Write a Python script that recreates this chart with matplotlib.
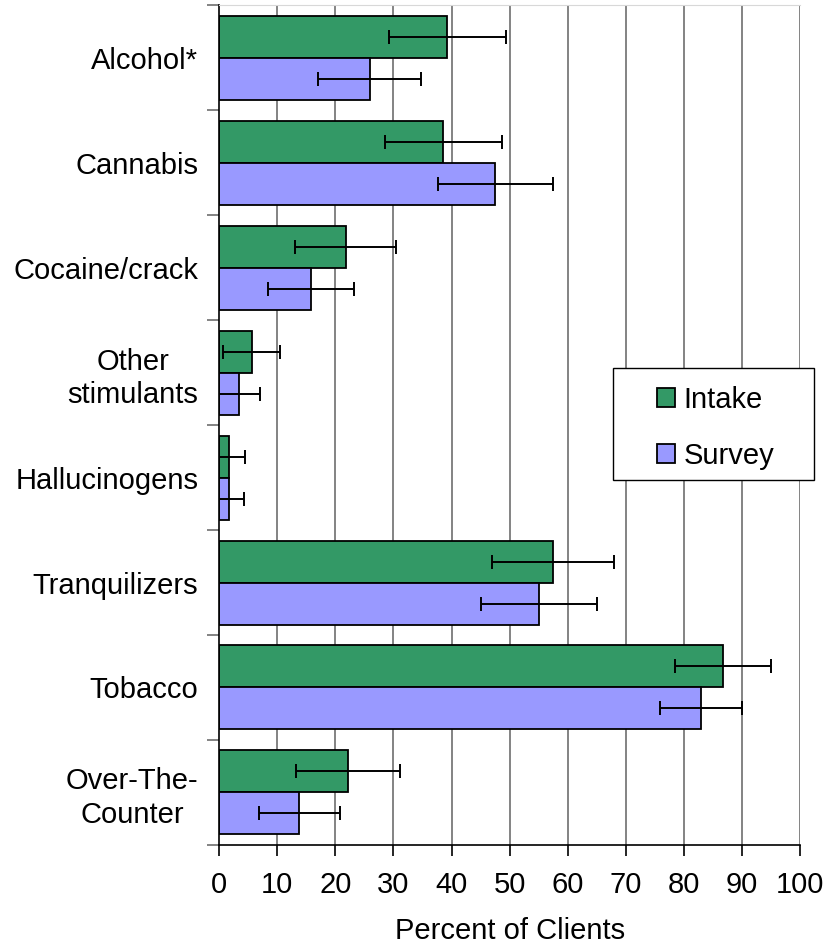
import matplotlib
matplotlib.use('Agg')
import matplotlib.pyplot as plt
from matplotlib.patches import Rectangle
import numpy as np

plt.rcParams['font.family'] = ['Liberation Sans', 'DejaVu Sans']

categories = ['Alcohol*', 'Cannabis', 'Cocaine/crack', 'Other\nstimulants',
              'Hallucinogens', 'Tranquilizers', 'Tobacco', 'Over-The-\nCounter']
intake = [39.3, 38.6, 21.8, 5.6, 1.7, 57.4, 86.7, 22.2]
intake_err = [10.1, 10.0, 8.7, 4.9, 2.8, 10.5, 8.3, 8.9]
survey = [25.9, 47.5, 15.8, 3.4, 1.7, 55.1, 82.9, 13.8]
survey_err = [8.8, 9.9, 7.4, 3.7, 2.6, 10.0, 7.0, 7.0]

fs = 21

fig = plt.figure(figsize=(8.27, 9.49), dpi=100)
ax = fig.add_axes([0.2648, 0.1096, 0.9677 - 0.2648, 0.9947 - 0.1096])

y = np.arange(len(categories))
h = 0.4

# vertical gridlines every 10
for v in range(10, 101, 10):
    ax.axvline(v, color='#6e6e6e', lw=1.2, zorder=0)

ax.barh(y - h / 2, intake, height=h, color='#339966', edgecolor='black',
        lw=1.3, label='Intake', zorder=2)
ax.barh(y + h / 2, survey, height=h, color='#9999ff', edgecolor='black',
        lw=1.3, label='Survey', zorder=2)
ax.errorbar(intake, y - h / 2, xerr=intake_err, fmt='none', ecolor='black',
            elinewidth=1.4, capsize=5, capthick=1.4, zorder=3)
ax.errorbar(survey, y + h / 2, xerr=survey_err, fmt='none', ecolor='black',
            elinewidth=1.4, capsize=5, capthick=1.4, zorder=3)

ax.set_xlim(0, 100)
ax.set_ylim(len(categories) - 0.5, -0.5)
ax.set_xticks(range(0, 101, 10))
ax.set_yticks(y)
ax.set_yticklabels(categories, multialignment='center', linespacing=1.25)
ax.set_yticks(np.arange(-0.5, len(categories)), minor=True)
ax.tick_params(axis='y', which='major', length=0, pad=15, labelsize=fs)
ax.tick_params(axis='y', which='minor', length=9, width=1.2, color='#6e6e6e')
ax.tick_params(axis='x', length=8, width=1.2, labelsize=fs, pad=11)
ax.set_xlabel('Percent of Clients', fontsize=fs, labelpad=13)

ax.spines['right'].set_visible(False)
ax.spines['top'].set_color('#d8d8d8')
ax.spines['left'].set_linewidth(1.2)
ax.spines['bottom'].set_linewidth(1.2)

# legend box drawn separately so it can sit over the right edge
fig.patches.append(Rectangle((613 / 827, 1 - 480 / 949), 201 / 827, 112 / 949,
                             transform=fig.transFigure, facecolor='white',
                             edgecolor='black', lw=1.0, zorder=5))
leg = fig.legend(loc='center left', bbox_to_anchor=(657 / 827, 1 - 428 / 949),
                 fontsize=fs, frameon=False, handlelength=0.62,
                 handleheight=0.62, handletextpad=0.3, labelspacing=0.95,
                 borderpad=0, borderaxespad=0)
leg.set_zorder(6)

fig.savefig('out.png', dpi=100)
